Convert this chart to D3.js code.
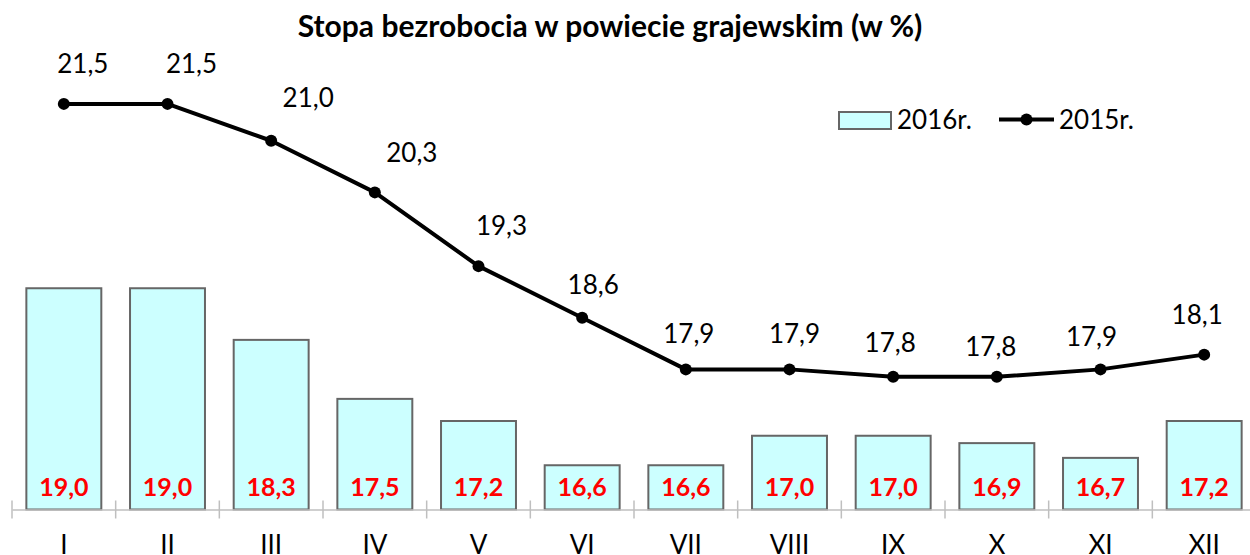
<!DOCTYPE html>
<html><head><meta charset="utf-8">
<script src="https://cdn.jsdelivr.net/npm/d3@7"></script>
<style>body{margin:0;background:#fff;} svg{display:block;}</style>
</head><body>
<svg id="c" width="1250" height="555"></svg>
<script>
const months = ["I","II","III","IV","V","VI","VII","VIII","IX","X","XI","XII"];
const values2016 = [19.0,19.0,18.3,17.5,17.2,16.6,16.6,17.0,17.0,16.9,16.7,17.2];
const values2015 = [21.5,21.5,21.0,20.3,19.3,18.6,17.9,17.9,17.8,17.8,17.9,18.1];
const seriesNames = ["2016r.","2015r."];
const titleText = "Stopa bezrobocia w powiecie grajewskim (w %)";
// label placement offsets for the 2015 line labels (layout only)
const lineLabelDx = [19, 24, 37, 37, 23, 11, 3, 5, -3, -6, -9, -7];
const lineLabelDy = [31, 31, 34, 30, 31, 24, 26, 26, 25, 21, 23, 31];
const fmt = v => v.toFixed(1).replace(".", ",");

const svg = d3.select("#c");
const font = "Lato, 'Open Sans', sans-serif";
const x = d3.scaleBand().domain(months).range([12, 1256]).padding(0);
const y = d3.scaleLinear().domain([16, 22]).range([509.5, 67]);
const barW = x.bandwidth() * 0.723;
const cx = m => x(m) + x.bandwidth() / 2;

// title
svg.append("text").attr("x", 610).attr("y", 37).attr("text-anchor", "middle")
  .attr("font-family", font).attr("font-weight", "bold").attr("font-size", 30)
  .text(titleText);

// bars
svg.append("g").selectAll("rect").data(months).join("rect")
  .attr("x", m => cx(m) - barW / 2)
  .attr("y", (m, i) => y(values2016[i]))
  .attr("width", barW)
  .attr("height", (m, i) => y(16) - y(values2016[i]))
  .attr("fill", "#ccffff").attr("stroke", "#666").attr("stroke-width", 2);

// axis
const axis = svg.append("g").attr("transform", `translate(0,${y(16)})`)
  .call(d3.axisBottom(x).tickSize(0).tickFormat(""));
axis.select(".domain").attr("stroke", "#bfbfbf").attr("stroke-width", 1.5);
const edges = months.map(m => x(m)).concat([x(months[months.length-1]) + x.bandwidth()]);
svg.append("g").selectAll("line").data(edges).join("line")
  .attr("x1", d => d).attr("x2", d => d)
  .attr("y1", y(16) - 9).attr("y2", y(16) + 9)
  .attr("stroke", "#bfbfbf").attr("stroke-width", 1.5);

// category labels
svg.append("g").selectAll("text").data(months).join("text")
  .attr("x", cx).attr("y", 554).attr("text-anchor", "middle")
  .attr("font-family", font).attr("font-size", 26).attr("fill", "#000")
  .text(d => d);

// bar labels
svg.append("g").selectAll("text").data(months).join("text")
  .attr("x", cx).attr("y", 496).attr("text-anchor", "middle")
  .attr("font-family", font).attr("font-weight", "bold").attr("font-size", 25).attr("fill", "#ff0000")
  .text((m, i) => fmt(values2016[i]));

// line
const line = d3.line().x((d, i) => cx(months[i])).y(d => y(d));
svg.append("path").datum(values2015).attr("d", line)
  .attr("fill", "none").attr("stroke", "#000").attr("stroke-width", 4).attr("stroke-linejoin", "round");
svg.append("g").selectAll("circle").data(values2015).join("circle")
  .attr("cx", (d, i) => cx(months[i])).attr("cy", d => y(d)).attr("r", 6).attr("fill", "#000");
svg.append("g").selectAll("text").data(values2015).join("text")
  .attr("x", (d, i) => cx(months[i]) + lineLabelDx[i]).attr("y", (d, i) => y(d) - lineLabelDy[i])
  .attr("text-anchor", "middle")
  .attr("font-family", font).attr("font-size", 26).attr("fill", "#000")
  .text(d => fmt(d));

// legend
const lg = svg.append("g");
lg.append("rect").attr("x", 839).attr("y", 112).attr("width", 52).attr("height", 17)
  .attr("fill", "#ccffff").attr("stroke", "#666").attr("stroke-width", 2);
lg.append("text").attr("x", 897).attr("y", 129).attr("font-family", font).attr("font-size", 26).text(seriesNames[0]);
lg.append("line").attr("x1", 999).attr("x2", 1054).attr("y1", 119.5).attr("y2", 119.5)
  .attr("stroke", "#000").attr("stroke-width", 4);
lg.append("circle").attr("cx", 1026.5).attr("cy", 119.5).attr("r", 6).attr("fill", "#000");
lg.append("text").attr("x", 1059).attr("y", 129).attr("font-family", font).attr("font-size", 26).text(seriesNames[1]);
</script>
</body></html>
